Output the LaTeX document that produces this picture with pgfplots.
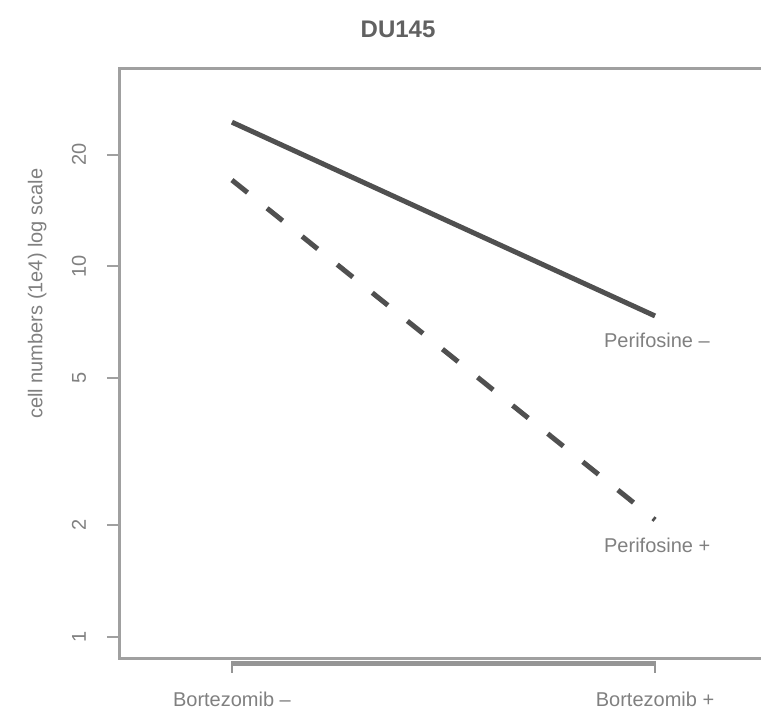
\documentclass[border=0pt]{standalone}
\usepackage{fontspec}
\setmainfont{Liberation Sans}
\usepackage{pgfplots}
\pgfplotsset{compat=1.18}
\definecolor{boxgray}{HTML}{A0A0A0}
\definecolor{axgray}{HTML}{959595}
\definecolor{txtgray}{HTML}{808080}
\definecolor{linegray}{HTML}{505050}
\newcommand{\yl}[1]{\raisebox{7pt}{#1}}
\begin{document}
\begin{tikzpicture}[x=1pt,y=1pt]
\useasboundingbox (0,0) rectangle (380.5,358);
\clip (0,0) rectangle (380.5,358);
\begin{axis}[
  at={(59.5pt,28.5pt)}, anchor=south west,
  scale only axis, width=324.5pt, height=295pt,
  clip=false,
  xmin=0.733, xmax=2.267,
  ymode=log, ymin=0.872, ymax=34.1,
  axis line style={boxgray, line width=1.5pt},
  xtick={1,2}, xticklabels={Bortezomib --, Bortezomib +},
  ytick={1,2,5,10,20}, yticklabels={\yl{1},\yl{2},\yl{5},\yl{10},\yl{20}},
  minor ytick={}, minor xtick={},
  xtick pos=bottom, ytick pos=left,
  tick align=outside,
  major tick length=6pt,
  x tick style={draw=none},
  y tick style={boxgray, line width=1pt},
  tick label style={font=\fontsize{10}{12}\selectfont, text=txtgray},
  yticklabel style={rotate=90, anchor=south},
  xticklabel style={yshift=-7pt},
  ylabel={cell numbers (1e4) log scale},
  ylabel style={at={(axis description cs:-0.126,0.619)}, anchor=center, font=\fontsize{10}{12}\selectfont, text=txtgray},
  title={DU145},
  title style={at={(axis description cs:0.43,1.046)}, anchor=center, font=\fontsize{12}{14}\selectfont\bfseries, text=linegray!90},
]
\addplot[linegray, line width=2.5pt] coordinates {(1,24.5) (2,7.35)};
\addplot[linegray, line width=2.5pt, dash pattern=on 10pt off 12.5pt] coordinates {(1,17.1) (2,2.07)};
\draw[axgray, line width=2.2pt] ([yshift=-2.2pt]axis cs:1,0.872) -- ([yshift=-2.2pt]axis cs:2,0.872);
\draw[axgray, line width=1pt] ([yshift=-1pt]axis cs:1,0.872) -- ([yshift=-7pt]axis cs:1,0.872);
\draw[axgray, line width=1pt] ([yshift=-1pt]axis cs:2,0.872) -- ([yshift=-7pt]axis cs:2,0.872);
\node[anchor=west, text=txtgray, font=\fontsize{10}{12}\selectfont] at (axis cs:1.863,6.33) {Perifosine --};
\node[anchor=west, text=txtgray, font=\fontsize{10}{12}\selectfont] at (axis cs:1.863,1.77) {Perifosine +};
\end{axis}
\end{tikzpicture}
\end{document}
